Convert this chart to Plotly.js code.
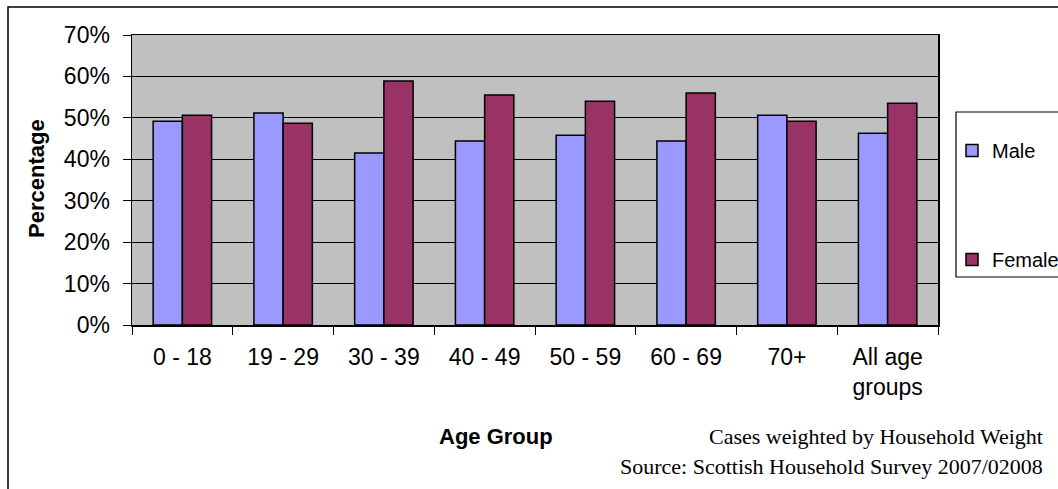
<!DOCTYPE html>
<html>
<head>
<meta charset="utf-8">
<script src="https://cdn.plot.ly/plotly-3.0.1.min.js"></script>
<style>html,body{margin:0;padding:0;background:#fff;}#chart{width:1058px;height:489px;}</style>
</head>
<body>
<div id="chart"></div>
<script>
var categories = ["0 - 18", "19 - 29", "30 - 39", "40 - 49", "50 - 59", "60 - 69", "70+", "All age<br>groups"];
var maleValues = [0.492, 0.512, 0.415, 0.444, 0.458, 0.444, 0.506, 0.463];
var femaleValues = [0.506, 0.487, 0.589, 0.555, 0.540, 0.560, 0.492, 0.535];
var yTickValues = [0, 0.1, 0.2, 0.3, 0.4, 0.5, 0.6, 0.7];
var yTickLabels = ["0%", "10%", "20%", "30%", "40%", "50%", "60%", "70%"];

var L = 132, R = 120, T = 35, B = 164, W = 1058, H = 489;
var pw = W - L - R, ph = H - T - B;
function px(x) { return (x - L) / pw; }
function py(y) { return (H - B - y) / ph; }

var sans = "Arial, 'Liberation Sans', sans-serif";
var serif = "'Times New Roman', 'Liberation Serif', serif";

var traces = [
  {type: "bar", name: "Male", x: categories, y: maleValues, legendgroup: "m",
   marker: {color: "#9999ff", line: {color: "#000000", width: 1.5}}, hoverinfo: "skip"},
  {type: "bar", name: "Female", x: categories, y: femaleValues, legendgroup: "f",
   marker: {color: "#993366", line: {color: "#000000", width: 1.5}}, hoverinfo: "skip"}
];

var layout = {
  width: W, height: H,
  margin: {l: L, r: R, t: T, b: B, autoexpand: false},
  paper_bgcolor: "#ffffff",
  plot_bgcolor: "#c0c0c0",
  barmode: "group", bargap: 0.42, bargroupgap: 0,
  showlegend: true,
  legend: {x: px(952), y: py(131), xanchor: "left", yanchor: "top",
           bgcolor: "rgba(0,0,0,0)", borderwidth: 0, tracegroupgap: 80,
           font: {family: sans, size: 20, color: "#000"}, itemwidth: 30},
  font: {family: sans, color: "#000"},
  xaxis: {type: "category", range: [-0.5, 7.5], tickson: "boundaries",
          ticks: "outside", ticklen: 8, tickcolor: "#000", tickwidth: 1,
          showline: true, mirror: true, linecolor: "#000", linewidth: 1.5,
          showgrid: false, zeroline: false, ticklabelstandoff: 11,
          tickfont: {family: sans, size: 23, color: "#000"}},
  yaxis: {range: [0, 0.7], tickvals: yTickValues, ticktext: yTickLabels,
          ticks: "outside", ticklen: 8, tickcolor: "#000", tickwidth: 1,
          showline: true, mirror: true, linecolor: "#000", linewidth: 1.5,
          showgrid: true, gridcolor: "#000", gridwidth: 1, zeroline: false,
          ticklabelstandoff: 8,
          tickfont: {family: sans, size: 23, color: "#000"}},
  shapes: [
    {type: "rect", xref: "paper", yref: "paper", x0: px(8), x1: px(1075), y0: py(7), y1: py(510),
     line: {color: "#000", width: 1.5}, fillcolor: "rgba(0,0,0,0)", layer: "below"},
    {type: "rect", xref: "paper", yref: "paper", x0: px(956), x1: px(1075), y0: py(112), y1: py(277),
     line: {color: "#000", width: 1.2}, fillcolor: "rgba(0,0,0,0)"}
  ],
  annotations: [
    {text: "<b>Percentage</b>", xref: "paper", yref: "paper", x: px(36), y: py(179),
     xanchor: "center", yanchor: "middle",
     textangle: -90, showarrow: false, font: {family: sans, size: 22, color: "#000"}},
    {text: "<b>Age Group</b>", xref: "paper", yref: "paper", x: px(496), y: py(437),
     xanchor: "center", yanchor: "middle",
     showarrow: false, font: {family: sans, size: 22, color: "#000"}},
    {text: "Cases weighted by Household Weight", xref: "paper", yref: "paper", x: px(1045), y: py(437),
     xanchor: "right", yanchor: "middle", showarrow: false, font: {family: serif, size: 22, color: "#000"}},
    {text: "Source: Scottish Household Survey 2007/02008", xref: "paper", yref: "paper", x: px(1045), y: py(466),
     xanchor: "right", yanchor: "middle", showarrow: false, font: {family: serif, size: 22, color: "#000"}}
  ]
};

Plotly.newPlot("chart", traces, layout, {staticPlot: true, displayModeBar: false});
</script>
</body>
</html>
